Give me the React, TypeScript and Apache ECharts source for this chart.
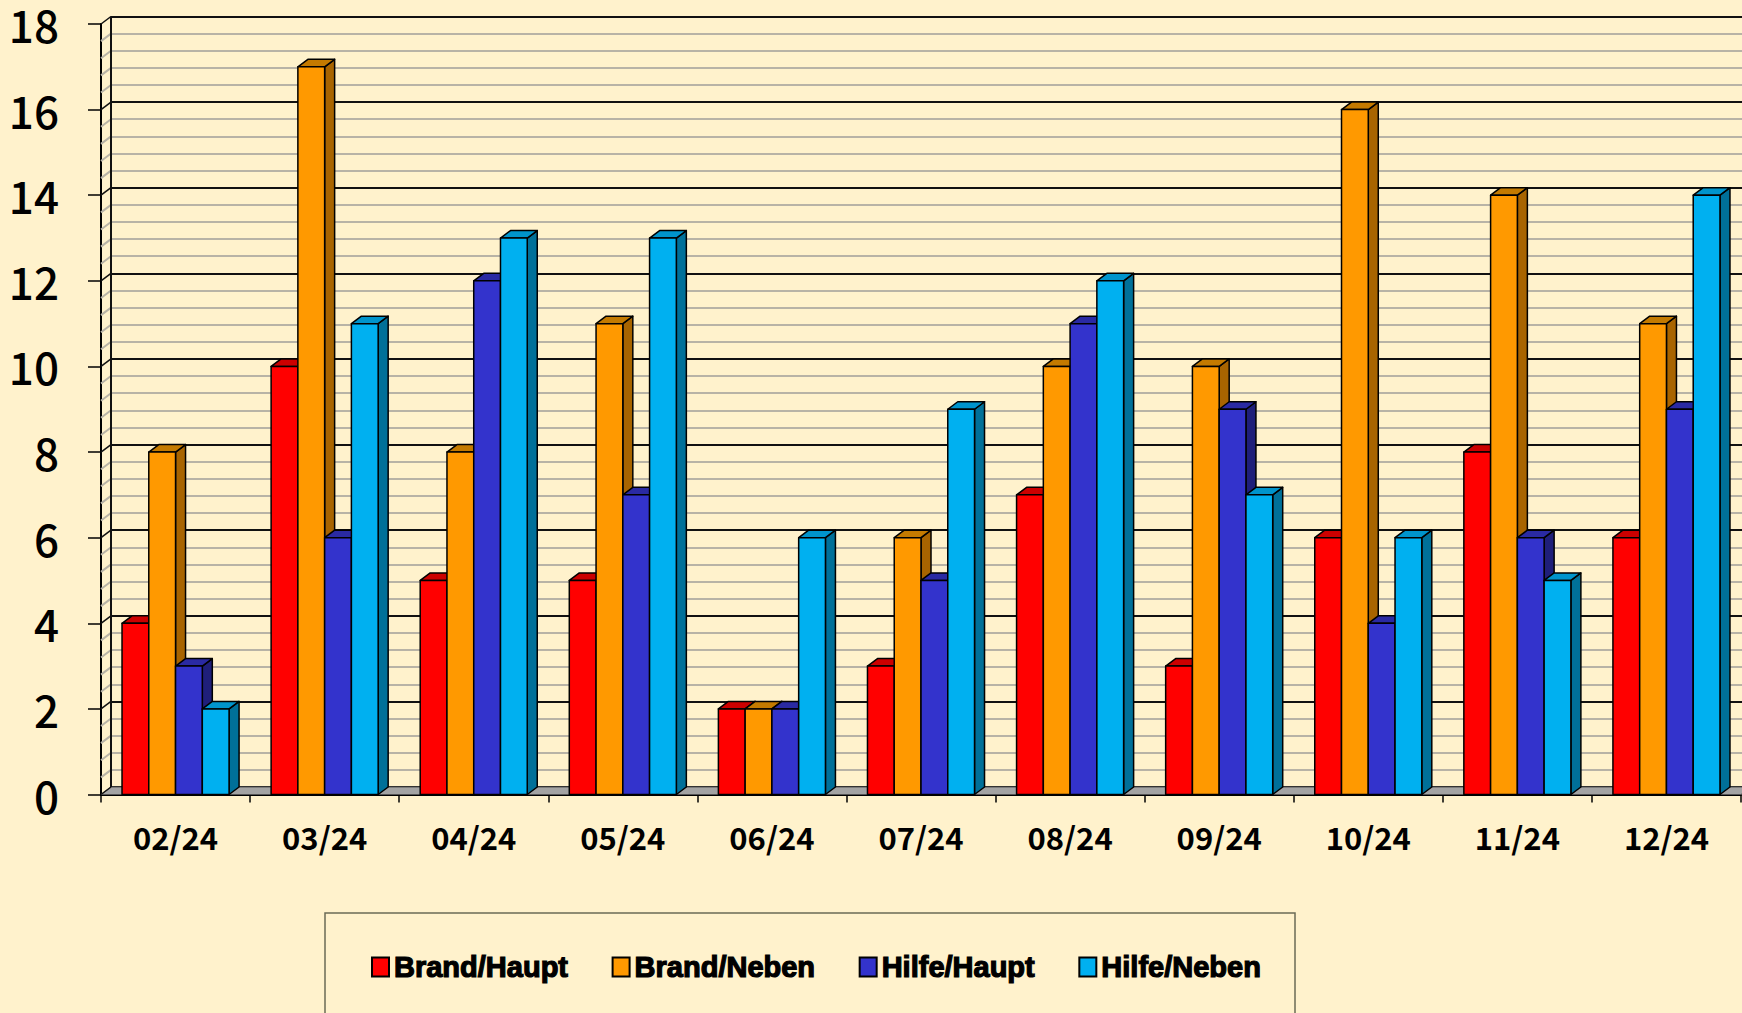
import React, { useEffect, useRef } from "react";
import * as echarts from "echarts";

const categories = ["02/24", "03/24", "04/24", "05/24", "06/24", "07/24", "08/24", "09/24", "10/24", "11/24", "12/24"];
const seriesNames = ["Brand/Haupt", "Brand/Neben", "Hilfe/Haupt", "Hilfe/Neben"];
const brandHaupt = [4, 10, 5, 5, 2, 3, 7, 3, 6, 8, 6];
const brandNeben = [8, 17, 8, 11, 2, 6, 10, 10, 16, 14, 11];
const hilfeHaupt = [3, 6, 12, 7, 2, 5, 11, 9, 4, 6, 9];
const hilfeNeben = [2, 11, 13, 13, 6, 9, 12, 7, 6, 5, 14];
const yTicks = { min: 0, max: 18, interval: 2, minorSplit: 5 };

const frontColors = ["#FF0000", "#FF9900", "#3333CC", "#00B0F0"];
const topColors = ["#CC0000", "#C47A00", "#2A2AA3", "#0094CC"];
const sideColors = ["#990000", "#A86400", "#1F1F7A", "#007099"];

const DX = 10;
const DY = -7.5;
const BAR_RATIO = 0.1795;

function barRenderer(k: number) {
  return (params: any, api: any) => {
    const ci = api.value(0);
    const v = api.value(1);
    const base = api.coord([ci, 0]);
    const tp = api.coord([ci, v]);
    const band = api.size([1, 0])[0];
    const w = band * BAR_RATIO;
    const x0 = base[0] - 2 * w + k * w;
    const x1 = x0 + w;
    const yb = base[1];
    const yt = tp[1];
    const st = { stroke: "#000", lineWidth: 1.5, lineJoin: "round" };
    return {
      type: "group",
      children: [
        { type: "polygon", shape: { points: [[x1, yt], [x1 + DX, yt + DY], [x1 + DX, yb + DY], [x1, yb]] }, style: { fill: sideColors[k], ...st } },
        { type: "polygon", shape: { points: [[x0, yt], [x0 + DX, yt + DY], [x1 + DX, yt + DY], [x1, yt]] }, style: { fill: topColors[k], ...st } },
        { type: "rect", shape: { x: x0, y: yt, width: w, height: yb - yt }, style: { fill: frontColors[k], ...st } },
      ],
    };
  };
}

function decoRenderer(params: any, api: any) {
  const cs = params.coordSys;
  const xl = cs.x;
  const xr = cs.x + cs.width;
  const yb = cs.y + cs.height;
  const yt = cs.y;
  const children: any[] = [];
  children.push({
    type: "polygon",
    shape: { points: [[xl, yb], [xr, yb], [xr + DX, yb + DY], [xl + DX, yb + DY]] },
    style: { fill: "#A3A3A3", stroke: "#555", lineWidth: 1 },
  });
  const step = yTicks.interval / yTicks.minorSplit;
  const n = Math.round((yTicks.max - yTicks.min) / step);
  for (let i = 0; i <= n; i++) {
    const v = yTicks.min + i * step;
    const y = api.coord([0, v])[1];
    const major = i % yTicks.minorSplit === 0;
    children.push({
      type: "line",
      shape: { x1: xl, y1: y, x2: xl + DX, y2: y + DY },
      style: { stroke: major ? "#111" : "#B8B3A6", lineWidth: major ? 1.5 : 2 },
    });
  }
  children.push({
    type: "line",
    shape: { x1: xl + DX, y1: yt + DY, x2: xl + DX, y2: yb + DY },
    style: { stroke: "#111", lineWidth: 2 },
  });
  return { type: "group", children };
}

export default function App() {
  const ref = useRef<HTMLDivElement>(null);
  useEffect(() => {
    document.body.style.margin = "0";
    const chart = echarts.init(ref.current!, null, { renderer: "svg" });
    const values = [brandHaupt, brandNeben, hilfeHaupt, hilfeNeben];
    const option: any = {
      animation: false,
      backgroundColor: "#FFF2CC",
      grid: [
        { left: 101, right: 1, top: 24, bottom: 218.5 },
        { left: 101 + DX, right: 1 - DX, top: 24 + DY, bottom: 218.5 - DY },
      ],
      xAxis: [
        {
          type: "category",
          gridIndex: 0,
          data: categories,
          axisLine: { lineStyle: { color: "#000", width: 2 } },
          axisTick: { show: true, interval: 0, length: 8, lineStyle: { color: "#000", width: 1.5 } },
          axisLabel: {
            interval: 0,
            margin: 26,
            color: "#000",
            fontSize: 31,
            fontWeight: "bold",
            fontFamily: "Noto Sans CJK JP",
          },
          splitLine: { show: false },
        },
        {
          type: "category",
          gridIndex: 1,
          data: categories,
          axisLine: { show: false },
          axisTick: { show: false },
          axisLabel: { show: false },
          splitLine: { show: false },
        },
      ],
      yAxis: [
        {
          type: "value",
          gridIndex: 0,
          min: yTicks.min,
          max: yTicks.max,
          interval: yTicks.interval,
          axisLine: { show: true, lineStyle: { color: "#000", width: 2 } },
          axisTick: { show: true, length: 13, lineStyle: { color: "#000", width: 1.5 } },
          axisLabel: {
            margin: 42,
            color: "#000",
            fontSize: 44,
            lineHeight: 40,
            fontWeight: 500,
            fontFamily: "Noto Sans CJK JP",
          },
          splitLine: { show: false },
        },
        {
          type: "value",
          gridIndex: 1,
          min: yTicks.min,
          max: yTicks.max,
          interval: yTicks.interval,
          axisLine: { show: false },
          axisTick: { show: false },
          axisLabel: { show: false },
          minorTick: { show: false, splitNumber: yTicks.minorSplit },
          splitLine: { show: true, lineStyle: { color: "#111", width: 2 } },
          minorSplitLine: { show: true, lineStyle: { color: "#B8B3A6", width: 2 } },
        },
      ],
      legend: {
        data: seriesNames,
        left: 366,
        top: 947,
        icon: "rect",
        itemWidth: 17,
        itemHeight: 19,
        itemGap: 43,
        itemStyle: { borderColor: "#000", borderWidth: 2 },
        textStyle: {
          fontFamily: "Liberation Sans",
          fontWeight: "bold",
          fontSize: 29,
          color: "#000",
          textBorderColor: "#000",
          textBorderWidth: 1.2,
        },
      },
      graphic: [
        {
          type: "rect",
          shape: { x: 325, y: 913, width: 970, height: 120 },
          style: { fill: "none", stroke: "#6B6B55", lineWidth: 1.5 },
          z: 0,
        },
      ],
      series: [
        {
          type: "custom",
          name: "deco",
          xAxisIndex: 0,
          yAxisIndex: 0,
          silent: true,
          z: 1,
          data: [[0, 0]],
          renderItem: decoRenderer,
        },
        ...seriesNames.map((name, k) => ({
          type: "custom",
          name,
          xAxisIndex: 0,
          yAxisIndex: 0,
          z: 2,
          itemStyle: { color: frontColors[k] },
          encode: { x: 0, y: 1 },
          data: values[k].map((v, i) => [i, v]),
          renderItem: barRenderer(k),
        })),
      ],
    };
    chart.setOption(option);
    return () => chart.dispose();
  }, []);
  return <div ref={ref} style={{ position: "fixed", left: 0, top: 0, width: 1742, height: 1013 }} />;
}
